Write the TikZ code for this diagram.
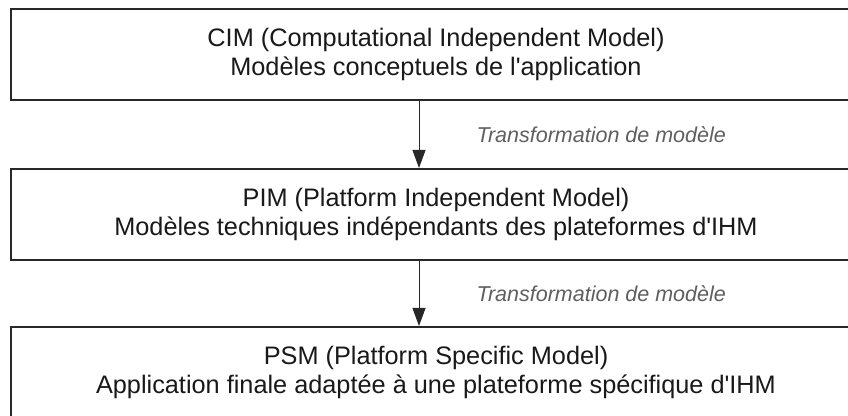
\documentclass[tikz,border=0pt]{standalone}
\usepackage{fontspec}
\setmainfont{Liberation Sans}
\usetikzlibrary{arrows.meta}
\definecolor{boxline}{RGB}{40,40,40}
\definecolor{labelgray}{RGB}{95,95,95}

\begin{document}
\begin{tikzpicture}
[
    x=0.5pt, y=-0.5pt,
    model/.style={draw=boxline, line width=1pt, minimum width=425pt, minimum height=45.5pt,
        inner sep=0pt, align=center, text=black!90, font=\fontsize{12.65}{14.5}\selectfont},
    transfo/.style={-{Triangle[width=6.5pt,length=9pt]}, line width=0.5pt, draw=boxline},
    transfolabel/.style={anchor=west, inner sep=0pt, text=labelgray,
        font=\fontsize{10.75}{13}\selectfont\itshape},
]
\path[use as bounding box, clip] (0,0) rectangle (848,416);
\fill[white] (0,0) rectangle (848,416);
\node[model] (cim) at (436,54.5)
    {CIM (Computational Independent Model)\\Modèles conceptuels de l\textquotesingle application};
\node[model] (pim) at (436,214.5)
    {PIM (Platform Independent Model)\\Modèles techniques indépendants des plateformes d\textquotesingle IHM};
\node[model] (psm) at (436,372.5)
    {PSM (Platform Specific Model)\\Application finale adaptée à une plateforme spécifique d\textquotesingle IHM};
\draw[transfo] ([xshift=-8.5pt]cim.south) -- ([xshift=-8.5pt]pim.north)
    node[transfolabel, midway, xshift=28.5pt] {Transformation de modèle};
\draw[transfo] ([xshift=-8.5pt]pim.south) -- ([xshift=-8.5pt]psm.north)
    node[transfolabel, midway, xshift=28.5pt] {Transformation de modèle};
\end{tikzpicture}
\end{document}
